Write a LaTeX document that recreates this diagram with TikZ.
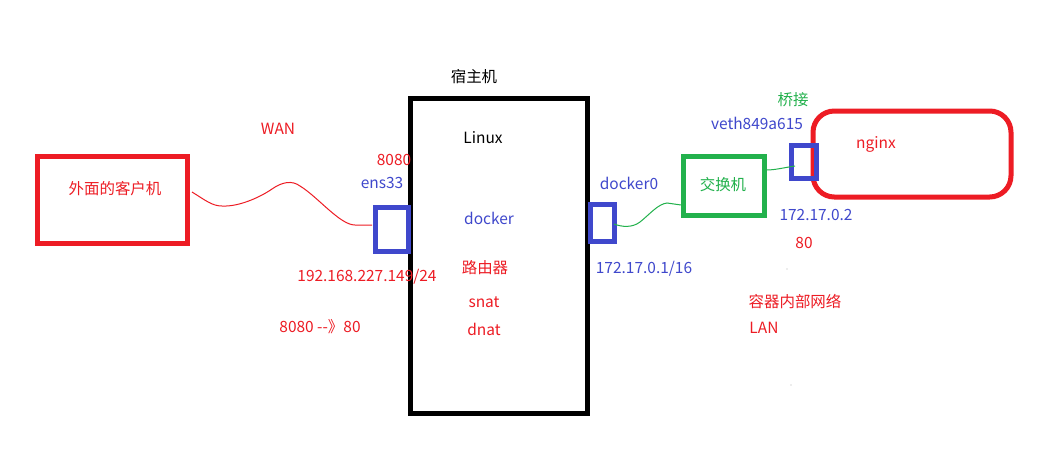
\documentclass[tikz,border=0pt]{standalone}
\usepackage{fontspec}
\setmainfont{Noto Sans CJK SC}
\definecolor{pred}{HTML}{ED1C24}
\definecolor{pblue}{HTML}{3F48CC}
\definecolor{pgreen}{HTML}{22B14C}
\begin{document}
\begin{tikzpicture}[x=0.75pt,y=-0.75pt,
  lbl/.style={font=\fontsize{11.6}{13}\selectfont,inner sep=0pt},
  box/.style={draw,line width=3.75pt},
  wire/.style={line width=0.75pt}]
\useasboundingbox[fill=white] (0,0) rectangle (1052,468);
% client
\draw[box,draw=pred] (37,156) rectangle (187,243);
\node[lbl,text=pred] (client) at (115,189) {外面的客户机};
\coordinate (cl) at (192,192);
% host
\draw[box,draw=black] (410,98) rectangle (587,413);
\node[lbl] (host) at (474,77) {宿主机};
\node[lbl] (linux) at (483,138) {Linux};
\node[lbl,text=pblue] (docker) at (489,218) {docker};
\node[lbl,text=pred] (router) at (485,268) {路由器};
\node[lbl,text=pred] (snat) at (484,302) {snat};
\node[lbl,text=pred] (dnat) at (484,329) {dnat};
% left port
\draw[box,draw=pblue] (375,207) rectangle (408,251);
\coordinate (ensl) at (372,225);
\node[lbl,text=pred] (p8080) at (394,160) {8080};
\node[lbl,text=pblue] (ens33) at (382,183) {ens33};
\node[lbl,text=pred] (wan) at (278,129) {WAN};
\node[lbl,text=pred] (ip1) at (367,277) {192.168.227.149/24};
\node[lbl,text=pred] (map) at (320,327) {8080 -{}-》80};
\draw[wire,pred] (cl) .. controls (205,200) and (212,206) .. (222,206)
  .. controls (240,207) and (262,196) .. (272,189)
  .. controls (282,182) and (292,180) .. (300,186)
  .. controls (318,197) and (340,225) .. (355,225) -- (ensl);
% right port
\draw[box,draw=pblue] (590,204) rectangle (614,241);
\coordinate (d0) at (614,224);
\node[lbl,text=pblue] (docker0) at (629,183) {docker0};
\node[lbl,text=pblue] (ip2) at (644,269) {172.17.0.1/16};
% switch
\draw[box,draw=pgreen] (683,156) rectangle (764,215);
\node[lbl,text=pgreen] (switch) at (723,185) {交换机};
\coordinate (swl) at (681,205);
\coordinate (swr) at (766,170);
\draw[wire,pgreen] (d0) .. controls (622,227) and (632,228) .. (640,222)
  .. controls (650,214) and (658,204) .. (667,203) -- (swl);
% nginx
\draw[box,draw=pred,rounded corners=16pt] (813,111) rectangle (1011,197);
\node[lbl,text=pred] (nginx) at (876,144) {nginx};
\draw[box,draw=pblue] (791,145) rectangle (816,178);
\coordinate (vl) at (795,166);
\draw[wire,pgreen] (swr) .. controls (775,170) and (782,168) .. (vl);
\node[lbl,text=pgreen] (bridge) at (793,100) {桥接};
\node[lbl,text=pblue] (veth) at (757,123) {veth849a615};
\node[lbl,text=pblue] (ip3) at (816,215) {172.17.0.2};
\node[lbl,text=pred] (p80) at (804,243) {80};
\node[lbl,text=pred] (lannet) at (795,302) {容器内部网络};
\node[lbl,text=pred] (lan) at (764,328) {LAN};
\fill[gray!60] (787,269) circle (0.7) (791,385) circle (0.7);
\end{tikzpicture}
\end{document}
